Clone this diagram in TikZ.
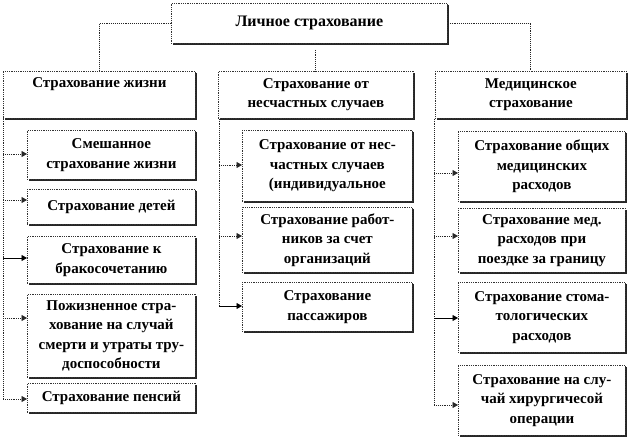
\documentclass[tikz,border=0pt]{standalone}
\usepackage{fontspec}
\setmainfont{Liberation Serif}
\usetikzlibrary{arrows.meta,shadows}
\begin{document}
\begin{tikzpicture}[x=1pt,y=-1pt,
  box/.style={draw=black!80, densely dotted, line width=0.8pt, fill=white,
    anchor=north west, inner sep=0pt, align=center,
    font=\fontsize{15}{19.5}\selectfont\bfseries,
    drop shadow={shadow xshift=1.2pt, shadow yshift=-1.2pt, fill=black!85, opacity=1}},
  conn/.style={draw=black!85, densely dotted, line width=0.9pt},
  arr/.style={conn, -{Triangle[length=5.5pt,width=6pt]}},
  sarr/.style={draw=black, solid, line width=0.8pt, -{Triangle[length=5.5pt,width=6pt]}}]
\useasboundingbox (0,0) rectangle (630,438);
\fill[white] (0,0) rectangle (630,438);

% top
\node[box, minimum width=276pt, minimum height=40pt, font=\fontsize{16}{19.5}\selectfont\bfseries] (top) at (171,3) {Личное страхование};
% level 2
\node[box, minimum width=192pt, minimum height=47pt] (A) at (3,71) {Страхование жизни\\\strut};
\node[box, minimum width=195pt, minimum height=47pt] (B) at (218,71) {Страхование от\\несчастных случаев};
\node[box, minimum width=191pt, minimum height=47pt] (C) at (435,71) {Медицинское\\страхование};

% left column
\node[box, minimum width=168pt, minimum height=49pt] (L1) at (27,130) {Смешанное\\страхование жизни};
\node[box, minimum width=168pt, minimum height=35pt] (L2) at (27,189) {Страхование детей};
\node[box, minimum width=168pt, minimum height=47pt] (L3) at (27,236) {Страхование к\\бракосочетанию};
\node[box, minimum width=168pt, minimum height=83pt] (L4) at (27,294) {Пожизненное стра-\\хование на случай\\смерти и утраты тру-\\доспособности};
\node[box, minimum width=168pt, minimum height=29pt] (L5) at (27,383) {Страхование пенсий};

% middle column
\node[box, minimum width=170pt, minimum height=71pt] (M1) at (242,130) {Страхование от нес-\\частных случаев\\(индивидуальное};
\node[box, minimum width=170pt, minimum height=65pt] (M2) at (242,207) {Страхование работ-\\ников за счет\\организаций};
\node[box, minimum width=170pt, minimum height=49pt] (M3) at (242,282) {Страхование\\пассажиров};

% right column
\node[box, minimum width=167pt, minimum height=70pt] (R1) at (458,131) {Страхование общих\\медицинских\\расходов};
\node[box, minimum width=167pt, minimum height=64pt] (R2) at (458,208) {Страхование мед.\\расходов при\\поездке за границу};
\node[box, minimum width=167pt, minimum height=70pt] (R3) at (458,282) {Страхование стома-\\тологических\\расходов};
\node[box, minimum width=167pt, minimum height=70pt] (R4) at (458,365) {Страхование на слу-\\чай хирургичесой\\операции};

% top connectors
\draw[conn] (top.west) -| (A.north);
\draw[conn] (top.east) -| (C.north);
\draw[conn] ([yshift=-6pt]top.south -| B.north) -- (B.north);

% spines
\coordinate (sL) at (3,399);
\coordinate (sM) at (219,306);
\coordinate (sR) at (434,405);
\draw[conn] (A.south west) -- (sL);
\draw[conn] (B.south west -| sM) -- (sM);
\draw[conn] (C.south west -| sR) -- (sR);

% left arrows
\draw[arr]  (sL |- 0,154) -- (L1.west |- 0,154);
\draw[arr]  (sL |- 0,200) -- (L2.west |- 0,200);
\draw[sarr] (sL |- 0,258) -- (L3.west |- 0,258);
\draw[arr]  (sL |- 0,318) -- (L4.west |- 0,318);
\draw[arr]  (sL) -- (L5.west |- sL);
% middle arrows
\draw[arr]  (sM |- 0,165) -- (M1.west |- 0,165);
\draw[arr]  (sM |- 0,236) -- (M2.west |- 0,236);
\draw[sarr] (sM) -- (M3.west |- sM);
% right arrows
\draw[arr]  (sR |- 0,173) -- (R1.west |- 0,173);
\draw[arr]  (sR |- 0,236) -- (R2.west |- 0,236);
\draw[sarr] (sR |- 0,318) -- (R3.west |- 0,318);
\draw[arr]  (sR) -- (R4.west |- sR);
\end{tikzpicture}
\end{document}
